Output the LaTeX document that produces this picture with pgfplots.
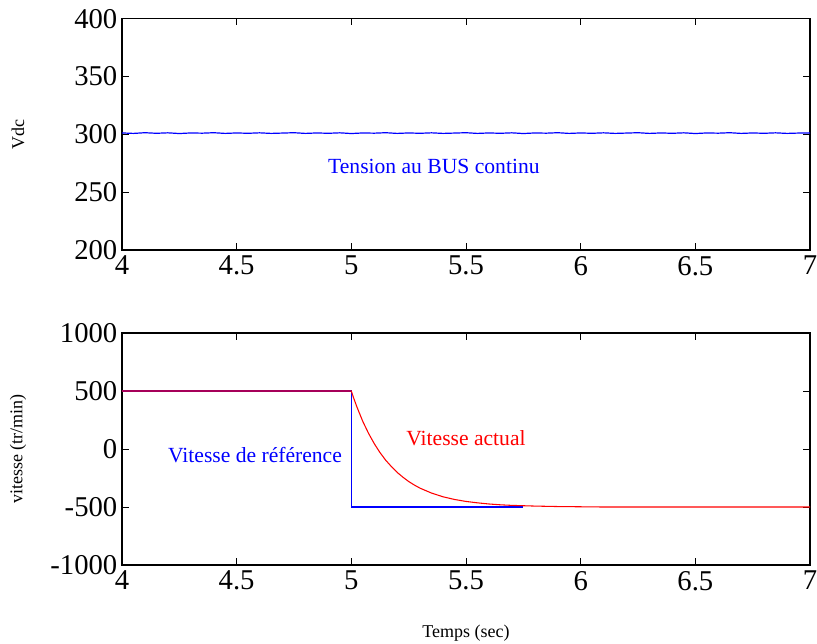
\documentclass[border=0pt]{standalone}
\usepackage{pgfplots}
\pgfplotsset{compat=1.18}
\usepackage{fontspec}
\setmainfont{Liberation Serif}
\begin{document}
\begin{tikzpicture}[x=1pt,y=1pt]
\useasboundingbox (-91.5pt,-294.75pt) rectangle (521.25pt,187.5pt);
\pgfplotsset{
  every axis/.append style={
    scale only axis, width=516pt, height=173.5pt,
    xmin=4, xmax=7, xtick={4,4.5,...,7},
    tick align=inside, tick pos=both,
    axis line style={line width=0.8pt}, tick style={black, line width=0.6pt},
    major tick length=5pt,
    ticklabel style={font=\fontsize{21.5}{23}\selectfont},
    label style={font=\fontsize{13.5}{15}\selectfont},
    /pgf/number format/assume math mode=true,
    /pgf/number format/set thousands separator={},
    xticklabel style={yshift=-1pt},
    every axis y label/.style={at={(axis description cs:-0.151,0.5)}, rotate=90, anchor=center, font=\fontsize{13.5}{15}\selectfont},
    clip=false,
  }
}
\begin{axis}[at={(0pt,0pt)}, anchor=south west,
  ymin=200, ymax=400, ytick={200,250,...,400},
  ylabel={Vdc},
  ]
\addplot[blue, line width=0.9pt] coordinates {
(4.00,301.2)(4.05,300.8)(4.10,301.4)(4.15,300.9)(4.20,301.3)(4.25,300.7)(4.30,301.2)(4.35,301.0)(4.40,301.4)(4.45,300.8)
(4.50,301.2)(4.55,300.9)(4.60,301.3)(4.65,300.8)(4.70,301.1)(4.75,301.4)(4.80,300.8)(4.85,301.2)(4.90,300.9)(4.95,301.3)
(5.00,300.7)(5.05,301.2)(5.10,301.0)(5.15,301.4)(5.20,300.8)(5.25,301.2)(5.30,300.9)(5.35,301.3)(5.40,300.8)(5.45,301.1)
(5.50,301.4)(5.55,300.8)(5.60,301.2)(5.65,300.9)(5.70,301.3)(5.75,300.7)(5.80,301.2)(5.85,301.0)(5.90,301.4)(5.95,300.8)
(6.00,301.2)(6.05,300.9)(6.10,301.3)(6.15,300.8)(6.20,301.1)(6.25,301.4)(6.30,300.8)(6.35,301.2)(6.40,300.9)(6.45,301.3)
(6.50,300.7)(6.55,301.2)(6.60,301.0)(6.65,301.4)(6.70,300.8)(6.75,301.2)(6.80,300.9)(6.85,301.3)(6.90,300.8)(6.95,301.1)
(7.00,301.2)};
\node[blue, font=\fontsize{16.2}{18}\selectfont] at (axis cs:5.36,272) {Tension au BUS continu};
\end{axis}
\begin{axis}[at={(0pt,-236.25pt)}, anchor=south west, height=174pt,
  ymin=-1000, ymax=1000, ytick={-1000,-500,...,1000},
  ylabel={vitesse (tr/min)},
  xlabel={Temps (sec)}, xlabel style={yshift=-19pt},
  ]
\addplot[blue, line width=0.8pt] coordinates {(4,500)(5,500)(5,-500)(5.75,-500)};
\addplot[red, line width=0.8pt] coordinates {
(4,500)(5,500)(5.01,440)(5.025,359)(5.05,238)(5.075,135)(5.10,46)(5.125,-31)(5.15,-97)(5.175,-152)(5.20,-202)
(5.225,-243)(5.25,-280)(5.275,-311)(5.30,-338)(5.35,-380)(5.40,-412)(5.45,-435)(5.50,-452)(5.55,-464)(5.60,-474)
(5.65,-481)(5.70,-486)(5.75,-489)(5.80,-492)(5.90,-496)(6.0,-498)(6.1,-500)(7,-500)};
\node[blue, font=\fontsize{16.2}{18}\selectfont] at (axis cs:4.58,-49) {Vitesse de référence};
\node[red, font=\fontsize{16.2}{18}\selectfont] at (axis cs:5.5,93) {Vitesse actual};
\end{axis}
\end{tikzpicture}
\end{document}
